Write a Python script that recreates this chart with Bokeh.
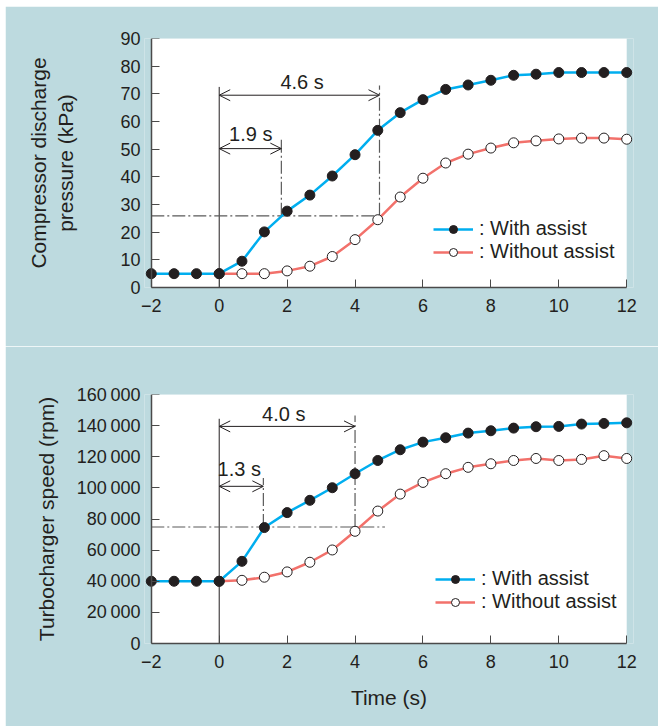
from bokeh.plotting import figure
from bokeh.layouts import column
from bokeh.models import (Range1d, FixedTicker, Label, Arrow, OpenHead, Legend,
                          LegendItem, BoxAnnotation, LinearAxis)
from bokeh.embed import file_html
from bokeh.resources import INLINE

FONT = "Liberation Sans"
TXT = "#231f20"
BG = "#bddadf"
BLUE = "#00aeef"
RED = "#f2716b"
AX = "#4a4a4a"
DASH = "#5a5a5a"

# ---------------- data ----------------
time_with = [-2, -1.33, -0.67, 0, 0.67, 1.33, 2, 2.67, 3.33, 4, 4.67, 5.33,
             6, 6.67, 7.33, 8, 8.67, 9.33, 10, 10.67, 11.33, 12]
time_without = [0, 0.67, 1.33, 2, 2.67, 3.33, 4, 4.67, 5.33, 6, 6.67, 7.33,
                8, 8.67, 9.33, 10, 10.67, 11.33, 12]

pressure_with = [5, 5, 5, 5, 9.5, 20.1, 27.6, 33.4, 40.3, 48, 56.8, 63.2,
                 67.9, 71.6, 73.2, 74.9, 76.7, 77.1, 77.7, 77.7, 77.7, 77.7]
pressure_without = [5, 5, 5, 6, 7.7, 11.2, 17.3, 24.5, 32.7, 39.5, 45, 48.2,
                    50.4, 52.3, 53, 53.7, 54, 54, 53.6]

speed_with = [40000, 40000, 40000, 40000, 52800, 74500, 84100, 92000, 100100,
              109100, 117600, 124500, 129400, 132200, 135200, 136700, 138400,
              139300, 139500, 141000, 141400, 141800]
speed_without = [40000, 40600, 42600, 46000, 52200, 60100, 72100, 85100, 96000,
                 103500, 109100, 113200, 115500, 117600, 118900, 117600, 118300,
                 120700, 118900]

x_ticks = [-2, 0, 2, 4, 6, 8, 10, 12]
pressure_ticks = [0, 10, 20, 30, 40, 50, 60, 70, 80, 90]
speed_ticks = [0, 20000, 40000, 60000, 80000, 100000, 120000, 140000, 160000]

legend_labels = [": With assist", ": Without assist"]

# response-time annotations: [short, long]
pressure_marks = [1.83, 4.72]
pressure_mark_texts = ["1.9 s", "4.6 s"]
pressure_arrow_y = [50.2, 69.5]
pressure_mark_tops = [53.8, 73.0]
pressure_level = 25.9
pressure_level_end = 4.72
pressure_zero_top = 72.5

speed_marks = [1.3, 4.0]
speed_mark_texts = ["1.3 s", "4.0 s"]
speed_arrow_y = [101000, 139500]
speed_mark_tops = [106300, 146500]
speed_level = 74850
speed_level_end = 4.88
speed_zero_top = 144400


def base_fig(height, left, right, top, bottom, y_max, yticks, overrides,
             ylabel, ylabel_standoff):
    p = figure(width=653, height=height, x_range=Range1d(-2.2, 12.2),
               y_range=Range1d(0, y_max), output_backend="svg",
               toolbar_location=None, min_border_left=left,
               min_border_right=right, min_border_top=top,
               min_border_bottom=bottom)
    p.background_fill_color = BG
    p.border_fill_color = BG
    p.outline_line_color = None
    p.grid.visible = False
    p.add_layout(BoxAnnotation(left=-2, right=12, bottom=0, top=y_max,
                               fill_color="white", fill_alpha=1,
                               line_color=None, level="underlay"))
    # x axis
    xa = p.xaxis[0]
    xa.ticker = FixedTicker(ticks=x_ticks)
    xa.bounds = (-2, 12)
    xa.major_label_overrides = {-2: "\u22122"}
    xa.major_tick_in = 8
    xa.major_tick_out = 0
    xa.minor_tick_line_color = None
    xa.axis_line_color = AX
    xa.axis_line_width = 1.5
    xa.major_tick_line_color = AX
    xa.major_label_standoff = 11
    # y axis: labels and title only (sits at frame edge)
    ya = p.yaxis[0]
    ya.ticker = FixedTicker(ticks=yticks)
    ya.axis_line_color = None
    ya.major_tick_line_color = None
    ya.minor_tick_line_color = None
    ya.major_tick_in = 0
    ya.major_tick_out = 0
    ya.major_label_standoff = 4
    if overrides:
        ya.major_label_overrides = overrides
    ya.axis_label = ylabel
    ya.axis_label_standoff = ylabel_standoff
    ya.axis_label_text_font = FONT
    ya.axis_label_text_font_size = "21px"
    ya.axis_label_text_font_style = "normal"
    ya.axis_label_text_color = TXT
    for ax in (xa, ya):
        ax.major_label_text_font = FONT
        ax.major_label_text_font_size = "18px"
        ax.major_label_text_color = TXT
    # y axis line + ticks drawn at t = -2
    yl = LinearAxis(fixed_location=-2, ticker=FixedTicker(ticks=yticks),
                    major_tick_in=8, major_tick_out=0,
                    minor_tick_line_color=None, axis_line_color=AX,
                    axis_line_width=1.5, major_tick_line_color=AX,
                    major_label_text_color=None,
                    major_label_text_font_size="1px", major_label_standoff=0)
    p.add_layout(yl, "left")
    return p


def annotate(p, marks, texts, arrow_y, tops, level, level_end, zero_top,
             text_pos):
    p.segment(x0=[0], y0=[0], x1=[0], y1=[zero_top], line_color=TXT,
              line_width=1)
    p.segment(x0=[-2], y0=[level], x1=[level_end], y1=[level],
              line_color=DASH, line_width=1.2, line_dash="13 3 2 3")
    p.segment(x0=marks, y0=[level, level], x1=marks, y1=tops,
              line_color=DASH, line_width=1.2, line_dash="13 3 2 3")
    for m, ay, t, (tx, ty) in zip(marks, arrow_y, texts, text_pos):
        p.add_layout(Arrow(x_start=0, y_start=ay, x_end=m, y_end=ay,
                           line_color=TXT, line_width=1,
                           start=OpenHead(size=11, line_color=TXT, line_width=1),
                           end=OpenHead(size=11, line_color=TXT, line_width=1)))
        p.add_layout(Label(x=tx, y=ty, text=t, text_align="center",
                           text_baseline="middle", text_font=FONT,
                           text_font_size="20px", text_color=TXT))


def series(p, yw, ywo, loc):
    r_red = p.line(time_without, ywo, line_color=RED, line_width=2.5)
    r_blue = p.line(time_with, yw, line_color=BLUE, line_width=2.5)
    r_open = p.scatter(time_without, ywo, size=10, fill_color="white",
                       line_color=TXT, line_width=1)
    r_fill = p.scatter(time_with, yw, size=10, fill_color=TXT,
                       line_color=TXT, line_width=1)
    legend = Legend(items=[LegendItem(label=legend_labels[0], renderers=[r_blue, r_fill]),
                           LegendItem(label=legend_labels[1], renderers=[r_red, r_open])],
                    location=loc, glyph_width=40, glyph_height=20,
                    label_height=20, label_standoff=6, padding=0, margin=0,
                    spacing=0, background_fill_alpha=0, border_line_color=None,
                    label_text_font=FONT, label_text_font_size="20px",
                    label_text_color=TXT)
    p.add_layout(legend)


# ---------------- top chart ----------------
p1 = base_fig(340, 139, 23, 32, 59, 90, pressure_ticks, None,
              "Compressor discharge\npressure (kPa)", 40)
annotate(p1, pressure_marks, pressure_mark_texts, pressure_arrow_y,
         pressure_mark_tops, pressure_level, pressure_level_end,
         pressure_zero_top, [(0.93, 55.6), (2.44, 74.3)])
series(p1, pressure_with, pressure_without, (289, 24))

# ---------------- bottom chart ----------------
speed_over = {v: f"{v:,}".replace(",", "\u2009") for v in speed_ticks}
p2 = base_fig(380, 134, 25, 48, 83, 160000, speed_ticks, speed_over,
              "Turbocharger speed (rpm)", 16)
annotate(p2, speed_marks, speed_mark_texts, speed_arrow_y, speed_mark_tops,
         speed_level, speed_level_end, speed_zero_top,
         [(0.59, 112300), (1.9, 147600)])
series(p2, speed_with, speed_without, (291, 30))
xa2 = p2.xaxis[0]
xa2.axis_label = "Time (s)"
xa2.axis_label_standoff = 15
xa2.axis_label_text_font = FONT
xa2.axis_label_text_font_size = "21px"
xa2.axis_label_text_font_style = "normal"
xa2.axis_label_text_color = TXT

layout = column(p1, p2, spacing=0, margin=(6, 0, 0, 5))
open("out.html", "w").write(file_html(layout, INLINE))
